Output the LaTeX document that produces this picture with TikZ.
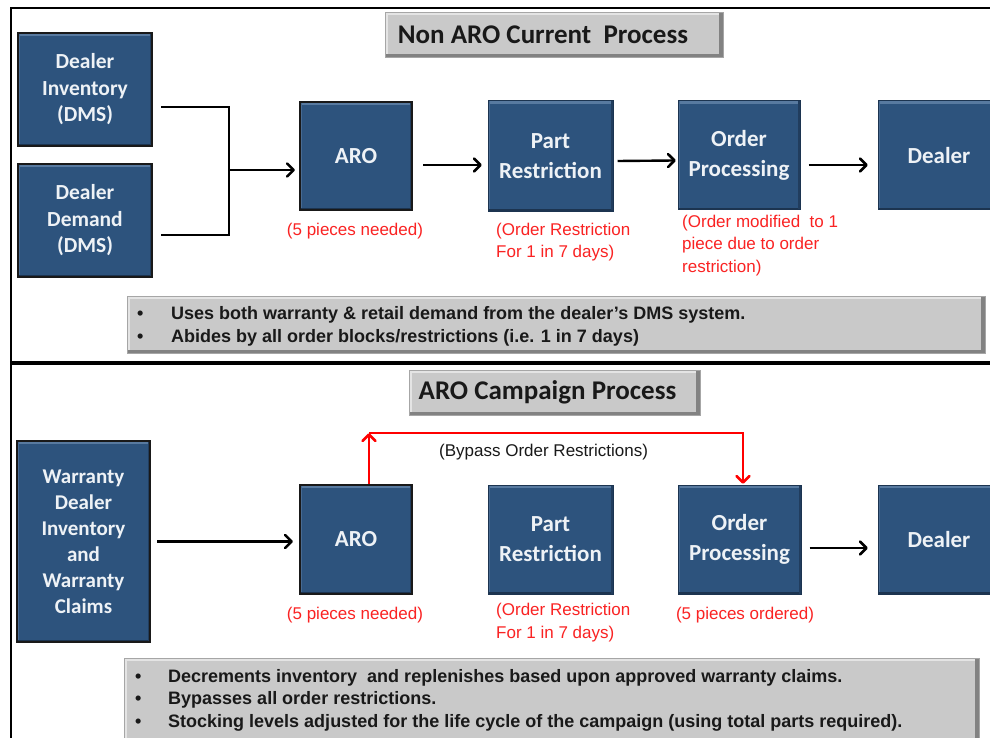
\documentclass[tikz,border=0pt]{standalone}
\usepackage{fontspec}
\setmainfont{Liberation Sans}
\newfontfamily\boxfont{Carlito}
\usetikzlibrary{arrows.meta,decorations.markings}
\definecolor{boxblue}{RGB}{45,83,125}
\definecolor{boxedge}{RGB}{28,52,80}
\definecolor{boxhi}{RGB}{88,122,160}
\definecolor{grayfill}{RGB}{201,201,201}
\definecolor{grayhi}{RGB}{228,228,228}
\definecolor{graylo}{RGB}{130,130,130}
\definecolor{redtxt}{RGB}{250,35,35}
\definecolor{boxtxt}{RGB}{238,242,246}
\tikzset{
  bluebox/.style={rectangle, fill=boxblue, draw=boxedge, line width=1pt, inner sep=0pt,
    align=center, text=boxtxt,
    font={\boxfont\bfseries\fontsize{23}{30}\selectfont},
    path picture={
      \draw[boxhi, line width=3pt] ([yshift=-1.5pt]path picture bounding box.north west) -- ([yshift=-1.5pt]path picture bounding box.north east);
      \draw[boxhi!60!boxblue, line width=2pt] ([xshift=1pt]path picture bounding box.north west) -- ([xshift=1pt]path picture bounding box.south west);
      \draw[boxedge, line width=2pt] ([yshift=1pt]path picture bounding box.south west) -- ([yshift=1pt]path picture bounding box.south east);
      \draw[boxedge!70!boxblue, line width=2pt] ([xshift=-1pt]path picture bounding box.north east) -- ([xshift=-1pt]path picture bounding box.south east);
    }},
  selbox/.style={bluebox, draw=black!90, line width=2.8pt},
  leftfont/.style={font={\boxfont\bfseries\fontsize{21.5}{26.5}\selectfont}},
  titlebox/.style={rectangle, fill=grayfill, draw=gray!70, line width=0.6pt, inner sep=0pt,
    font={\boxfont\bfseries\fontsize{27}{30}\selectfont}, text=black!90,
    path picture={
      \fill[grayhi] (path picture bounding box.north west) rectangle ([yshift=-3pt]path picture bounding box.north east);
      \fill[grayhi] (path picture bounding box.north west) rectangle ([xshift=3pt]path picture bounding box.south west);
      \fill[graylo] ([yshift=3pt]path picture bounding box.south west) rectangle (path picture bounding box.south east);
      \fill[graylo] ([xshift=-4pt]path picture bounding box.north east) rectangle (path picture bounding box.south east);
    }},
  bulbox/.style={titlebox},
  bultext/.style={anchor=base west, inner sep=0pt, text=black!90, font={\bfseries\fontsize{18}{22}\selectfont}},
  redlab/.style={inner sep=0pt, text=redtxt, font={\fontsize{17}{22}\selectfont}},
  blklab/.style={inner sep=0pt, text=black!90, font={\fontsize{17}{22}\selectfont}},
  conn/.style={draw=black, line width=2.4pt},
  chevron/.style={postaction={decorate, decoration={markings,
      mark=at position 1 with {\draw[#1, line width=2.6pt, line cap=round, line join=round] (-6.5pt,6.5pt) -- (0pt,0pt) -- (-6.5pt,-6.5pt);}}}},
  arr/.style={conn, chevron=black},
  rarr/.style={draw=red, line width=2.6pt, chevron=red},
}
\begin{document}
\begin{tikzpicture}[x=1pt,y=-1pt]
\clip (0,0) rectangle (990,738);
\fill[white] (0,0) rectangle (990,738);
% frame
\draw[line width=2pt] (10.5,740) -- (10.5,8) -- (995,8);
\draw[line width=3.2pt] (10.5,363) -- (995,363);

% ---------- top section ----------
\node[titlebox, minimum width=338pt, minimum height=45pt] (t1) at (554,34.5) {Non ARO Current~ Process\hspace*{22pt}};

\node[selbox, leftfont, minimum width=134pt, minimum height=113pt] (inv1) at (85,89.5) {Dealer\\Inventory\\(DMS)};
\node[selbox, leftfont, minimum width=134pt, minimum height=113pt] (dem1) at (85,220.5) {Dealer\\Demand\\(DMS)};
\node[selbox, minimum width=112pt, minimum height=108pt] (aro1) at (356,156) {ARO};
\node[bluebox, minimum width=125pt, minimum height=110pt] (pr1) at (550.5,156) {Part\\Restriction};
\node[bluebox, minimum width=122pt, minimum height=109pt] (op1) at (739,155.5) {Order\\Processing};
\node[bluebox, minimum width=122pt, minimum height=109pt] (dl1) at (939,155.5) {Dealer};

\coordinate (j1) at (229,170);
\draw[conn] ([xshift=8pt,yshift=-17.5pt]inv1.east) -| (j1);
\draw[conn] ([xshift=8pt,yshift=-14.5pt]dem1.east) -| (j1);
\draw[arr] (j1) -- ([xshift=-5pt]j1 -| aro1.west);
\draw[arr] ([xshift=10pt,yshift=-9pt]aro1.east) -- ([xshift=-7pt,yshift=-9pt]pr1.west);
\draw[arr] ([xshift=4pt,yshift=-5pt]pr1.east) -- ([xshift=-3pt,yshift=-5pt]op1.west);
\draw[arr] ([xshift=8pt,yshift=-9.5pt]op1.east) -- ([xshift=-11pt,yshift=-9.5pt]dl1.west);

\node[redlab, anchor=base] (r1) at (355,235) {(5 pieces needed)};
\node[redlab, anchor=base west] (r2) at (496,235) {(Order Restriction};
\node[redlab, anchor=base west] (r3) at (496,257) {For 1 in 7 days)};
\node[redlab, anchor=base west] (r4) at (682,227) {(Order modified\ \ to 1};
\node[redlab, anchor=base west] (r5) at (682,249) {piece due to order};
\node[redlab, anchor=base west] (r6) at (682,272) {restriction)};

\node[bulbox, minimum width=858pt, minimum height=57pt] (g1) at (556,324.5) {};
\node[bultext] (g1a) at (137,319) {\makebox[34pt][l]{•}Uses both warranty \& retail demand from the dealer's DMS system.};
\node[bultext] (g1b) at (137,342) {\makebox[34pt][l]{•}Abides by all order blocks/restrictions (i.e. 1 in 7 days)};

% ---------- bottom section ----------
\node[titlebox, minimum width=291pt, minimum height=45pt] (t2) at (554.5,392.5) {ARO Campaign Process\hspace*{14pt}};

\node[selbox, font={\boxfont\bfseries\fontsize{21}{26}\selectfont}, minimum width=133pt, minimum height=201pt] (war2) at (83.5,541.5) {Warranty\\Dealer\\Inventory\\and\\Warranty\\Claims};
\node[selbox, minimum width=112pt, minimum height=109pt] (aro2) at (356,539.5) {ARO};
\node[bluebox, minimum width=125pt, minimum height=109pt] (pr2) at (550.5,539.5) {Part\\Restriction};
\node[bluebox, minimum width=123pt, minimum height=109pt] (op2) at (739.5,539.5) {Order\\Processing};
\node[bluebox, minimum width=122pt, minimum height=109pt] (dl2) at (939,539.5) {Dealer};

\draw[arr] ([xshift=6pt]war2.east) -- ([xshift=-7pt]war2.east -| aro2.west);
\draw[arr] ([xshift=8pt,yshift=-8.5pt]op2.east) -- ([xshift=-11pt,yshift=-8.5pt]dl2.west);

\coordinate (bpL) at (369,433);
\coordinate (bpR) at (743,433);
\draw[rarr] (aro2.north -| bpL) -- ([yshift=-1.5pt]bpL);
\draw[rarr] (bpL) -- (bpR) -- ([yshift=2pt]bpR |- op2.north);
\node[blklab, anchor=base west] (bp) at (439,456) {(Bypass Order Restrictions)};

\node[redlab, anchor=base] (s1) at (355,619) {(5 pieces needed)};
\node[redlab, anchor=base west] (s2) at (496,615) {(Order Restriction};
\node[redlab, anchor=base west] (s3) at (496,638) {For 1 in 7 days)};
\node[redlab, anchor=base] (s4) at (745,619) {(5 pieces ordered)};

\node[bulbox, minimum width=855pt, minimum height=90pt] (g2) at (551.5,703) {};
\node[bultext] (g2a) at (135,682) {\makebox[33pt][l]{•}Decrements inventory\ \ and replenishes based upon approved warranty claims.};
\node[bultext] (g2b) at (135,704.5) {\makebox[33pt][l]{•}Bypasses all order restrictions.};
\node[bultext] (g2c) at (135,727) {\makebox[33pt][l]{•}Stocking levels adjusted for the life cycle of the campaign (using total parts required).};
\end{tikzpicture}
\end{document}
